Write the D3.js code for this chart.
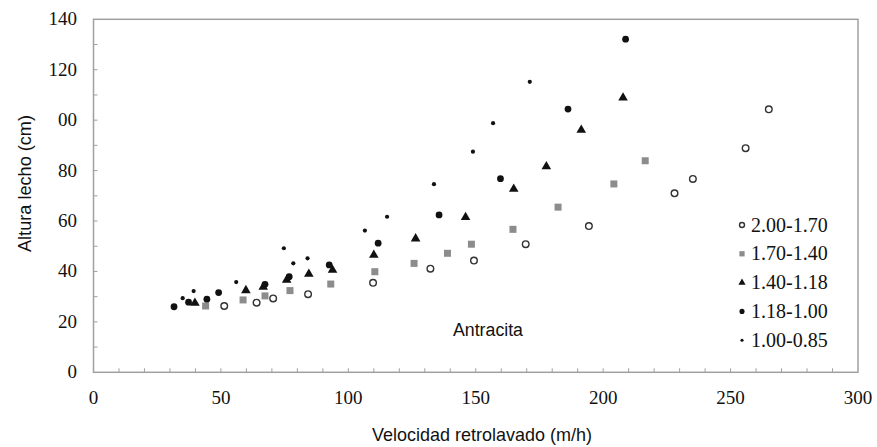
<!DOCTYPE html>
<html><head><meta charset="utf-8">
<script src="https://cdn.jsdelivr.net/npm/d3@7"></script>
<style>body{margin:0;background:#fff}svg{display:block}
.serif{font-family:"Liberation Serif","Times New Roman",Times,Tinos,"DejaVu Serif",serif}
.sans{font-family:"Liberation Sans",Arial,Helvetica,sans-serif}
</style>
</head><body>
<svg id="c" width="877" height="447"></svg>
<script>
const seriesNames = ["2.00-1.70","1.70-1.40","1.40-1.18","1.18-1.00","1.00-0.85"];
const s1 = [[51.3,26.3],[64,27.6],[70.5,29.3],[84.2,31],[109.7,35.5],[132.2,41.1],[149.3,44.3],[169.6,50.8],[194.4,58],[228,71],[235.2,76.7],[255.9,88.9],[265,104.3]];
const s2 = [[44,26.3],[58.7,28.7],[67.3,30.3],[77.1,32.4],[93.1,35],[110.4,39.9],[125.8,43.2],[138.9,47.2],[148.3,50.8],[164.6,56.7],[182.3,65.5],[204.2,74.7],[216.5,83.9]];
const s3 = [[39.8,27.5],[59.8,32.5],[66.6,33.8],[75.8,36.6],[84.5,39],[93.8,40.6],[110,46.5],[126.4,53],[146,61.5],[164.9,72.7],[177.7,81.6],[191.4,96.1],[207.8,108.9]];
const s4 = [[31.6,26],[37.3,27.8],[44.5,29],[49.1,31.6],[67.3,34.9],[76.8,37.9],[92.5,42.6],[111.7,51.2],[135.6,62.4],[159.7,76.8],[186.2,104.4],[208.8,132.1]];
const s5 = [[35,29.4],[39.3,32.2],[56,35.8],[74.7,49.2],[78.4,43.2],[84,45.2],[106.5,56.2],[115.2,61.7],[133.6,74.6],[148.9,87.5],[156.8,98.8],[171.2,115.2]];
const xTicks = [0,50,100,150,200,250,300];
const yTicks = [0,20,40,60,80,100,120,140];
const yTickLabels = ["0","20","40","60","80","00","120","140"];
const xTitle = "Velocidad retrolavado (m/h)";
const yTitle = "Altura lecho (cm)";
const note = "Antracita";

const svg = d3.select("#c");
const x = d3.scaleLinear().domain([0,300]).range([93.5,858]);
const y = d3.scaleLinear().domain([0,140]).range([372.3,19.3]);
const axisCol = "#a0a0a0";

// frame
svg.append("rect").attr("x",x(0)).attr("y",y(140)).attr("width",x(300)-x(0)).attr("height",y(0)-y(140))
  .attr("fill","none").attr("stroke",axisCol).attr("stroke-width",1.5);

// minor ticks (inward)
const g = svg.append("g");
d3.range(10,300,10).forEach(v=>{
  g.append("line").attr("x1",x(v)).attr("x2",x(v)).attr("y1",y(0)).attr("y2",y(0)-4).attr("stroke",axisCol).attr("stroke-width",1);
});
d3.range(10,140,10).forEach(v=>{
  g.append("line").attr("x1",x(0)).attr("x2",x(0)+4).attr("y1",y(v)).attr("y2",y(v)).attr("stroke",axisCol).attr("stroke-width",1);
});

// tick labels
svg.append("g").selectAll("text").data(xTicks).join("text").attr("class","serif")
  .attr("x",d=>x(d)).attr("y",y(0)+32).attr("text-anchor","middle")
  .attr("font-size",19).attr("fill","#111").text(d=>d);
svg.append("g").selectAll("text").data(yTicks).join("text").attr("class","serif")
  .attr("x",77).attr("y",d=>y(d)+6).attr("text-anchor","end")
  .attr("font-size",19).attr("fill","#111").text((d,i)=>yTickLabels[i]);

// titles
svg.append("text").attr("class","sans").attr("x",372).attr("y",441)
  .attr("font-size",19).attr("fill","#111").attr("textLength",220).attr("lengthAdjust","spacingAndGlyphs").text(xTitle);
svg.append("text").attr("class","sans").attr("transform","translate(31,252) rotate(-90)")
  .attr("font-size",19).attr("fill","#111").attr("textLength",137).attr("lengthAdjust","spacingAndGlyphs").text(yTitle);
svg.append("text").attr("class","sans").attr("x",453).attr("y",336)
  .attr("font-size",18).attr("fill","#111").attr("textLength",70).attr("lengthAdjust","spacingAndGlyphs").text(note);

// markers
function drawMarker(sel, type, big){
  const k = big ? 1 : 0.75;
  if(type===0) sel.append("circle").attr("r",3.3*k).attr("fill","#fff").attr("stroke","#333").attr("stroke-width",1.4);
  else if(type===1) sel.append("rect").attr("x",-3.5*k).attr("y",-3.5*k).attr("width",7*k).attr("height",7*k).attr("fill","#8c8c8c");
  else if(type===2) sel.append("path").attr("d",d3.symbol(d3.symbolTriangle, 40*k*k)()).attr("fill","#111");
  else if(type===3) sel.append("circle").attr("r",3.4*k).attr("fill","#111");
  else sel.append("circle").attr("r",2.1*k).attr("fill","#111");
}
const all = [s1,s2,s3,s4,s5];
all.forEach((s,i)=>{
  svg.append("g").selectAll("g").data(s).join("g")
    .attr("transform",d=>`translate(${x(d[0])},${y(d[1])})`)
    .each(function(){ drawMarker(d3.select(this), i, true); });
});

// legend
const lg = svg.append("g");
seriesNames.forEach((n,i)=>{
  const yy = 225 + i*28.8;
  const m = lg.append("g").attr("transform",`translate(742,${yy})`);
  drawMarker(m, i, false);
  lg.append("text").attr("class","serif").attr("x",751).attr("y",yy+6.5).attr("font-size",20).attr("fill","#111").text(n);
});
</script>
</body></html>
